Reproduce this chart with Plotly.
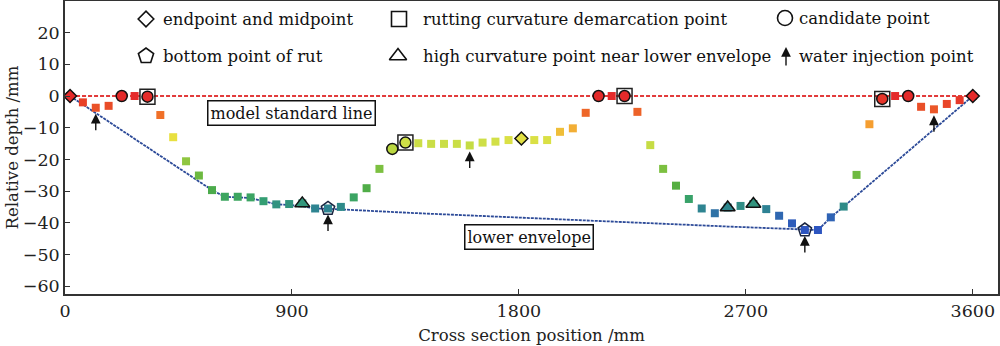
import plotly.graph_objects as go

# ---------------- data ----------------
position = [20, 71, 122, 173, 225, 276, 327, 378, 429, 480, 531, 583, 634, 685, 736,
            787, 838, 889, 941, 992, 1043, 1094, 1145, 1196, 1247, 1298, 1350, 1401,
            1452, 1503, 1554, 1605, 1656, 1707, 1759, 1810, 1861, 1912, 1963, 2014,
            2065, 2116, 2168, 2219, 2270, 2321, 2372, 2423, 2474, 2525, 2577, 2628,
            2679, 2730, 2781, 2832, 2883, 2934, 2986, 3037, 3088, 3139, 3190, 3241,
            3292, 3344, 3395, 3446, 3497, 3548, 3600]
depth = [0, -2.0, -3.7, -3.1, 0, 0, -0.2, -6.0, -13.0, -20.6, -25.1, -29.7, -31.8,
         -31.8, -32.0, -33.2, -34.2, -34.1, -33.9, -35.5, -35.5, -35.0, -32.0, -29.1,
         -23.0, -16.7, -14.7, -14.9, -15.1, -15.1, -15.1, -15.6, -14.7, -14.4, -13.9,
         -13.4, -13.9, -13.9, -11.3, -10.2, -5.3, 0, 0, 0, -5.0, -15.5, -23.0, -28.3,
         -32.5, -35.5, -37.0, -35.2, -34.7, -34.1, -35.7, -37.8, -40.2, -42.3, -42.3,
         -38.3, -34.9, -24.9, -8.9, -0.9, 0, 0, -3.4, -4.2, -2.5, -1.3, 0]

endpoint_idx = [0, 35, 70]
demarcation_idx = [6, 26, 43, 63]
candidate_idx = [4, 6, 25, 26, 41, 43, 63, 65]
bottom_idx = [20, 57]
high_curv_idx = [18, 51, 53]
water_idx = [2, 20, 31, 57, 67]

standard_x = [20, 3600]
standard_y = [0, 0]

envelope_x = [20, 583, 634, 736, 787, 838, 889, 941, 992, 1043, 1400, 1810, 2219,
              2628, 2883, 2934, 2986, 3037, 3088, 3600]
envelope_y = [0, -29.7, -31.8, -32.2, -33.2, -34.2, -34.4, -34.8, -35.5, -35.6,
              -37.0, -38.5, -39.8, -41.2, -42.0, -42.3, -42.3, -38.3, -34.9, 0]

x_ticks = [0, 900, 1800, 2700, 3600]
y_ticks = [20, 10, 0, -10, -20, -30, -40, -50, -60]

legend_labels = ["endpoint and midpoint", "rutting curvature demarcation point",
                 "candidate point", "bottom point of rut",
                 "high curvature point near lower envelope", "water injection point"]
legend_symbols = ["diamond-open", "square-open", "circle-open", "pentagon-open",
                  "triangle-up-open", None]

# ---------------- style ----------------
FONT = "DejaVu Serif"
colorscale = [
    [0.00, "#2d55c0"], [0.10, "#2f64b4"], [0.137, "#2f78a0"], [0.173, "#2e8a8a"],
    [0.22, "#35a070"], [0.267, "#42a855"], [0.338, "#58b040"], [0.456, "#7cc040"],
    [0.527, "#94c840"], [0.61, "#bcd840"], [0.657, "#d0e048"], [0.693, "#e8e040"],
    [0.74, "#f0b838"], [0.787, "#f5a030"], [0.858, "#f07028"], [0.905, "#ea5528"],
    [0.953, "#e84028"], [1.00, "#e42a2a"]]
CMIN, CMAX = -42.3, 0


def pick(idx, arr):
    return [arr[i] for i in idx]


def colored(size, symbol, idx, lw=1.5):
    return dict(symbol=symbol, size=size, color=pick(idx, depth), colorscale=colorscale,
                cmin=CMIN, cmax=CMAX, line=dict(color="#111", width=lw))


fig = go.Figure()

fig.add_trace(go.Scatter(x=standard_x, y=standard_y, mode="lines",
                         line=dict(color="#e23b3b", width=2, dash="4px,2px")))
fig.add_trace(go.Scatter(x=envelope_x, y=envelope_y, mode="lines",
                         line=dict(color="#2c4a98", width=1.8, dash="3px,1px")))

fig.add_trace(go.Scatter(x=position, y=depth, mode="markers",
                         marker=dict(symbol="square", size=8, color=depth,
                                     colorscale=colorscale, cmin=CMIN, cmax=CMAX,
                                     line=dict(width=0))))

fig.add_trace(go.Scatter(x=pick(demarcation_idx, position), y=pick(demarcation_idx, depth),
                         mode="markers",
                         marker=dict(symbol="square-open", size=15, color="#222",
                                     line=dict(width=1.5))))
fig.add_trace(go.Scatter(x=pick(candidate_idx, position), y=pick(candidate_idx, depth),
                         mode="markers", marker=colored(11, "circle", candidate_idx)))
fig.add_trace(go.Scatter(x=pick(bottom_idx, position), y=pick(bottom_idx, depth),
                         mode="markers",
                         marker=dict(symbol="pentagon-open", size=14, color="#1a2540",
                                     line=dict(width=1.5))))
fig.add_trace(go.Scatter(x=pick(high_curv_idx, position), y=pick(high_curv_idx, depth),
                         mode="markers", marker=colored(13, "triangle-up", high_curv_idx)))
fig.add_trace(go.Scatter(x=pick(endpoint_idx, position), y=pick(endpoint_idx, depth),
                         mode="markers", marker=colored(10, "diamond", endpoint_idx)))

annotations = []
for i in water_idx:
    annotations.append(dict(x=position[i], y=depth[i], xref="x", yref="y", text="",
                            showarrow=True, ax=0, ay=24, standoff=6, arrowhead=2,
                            arrowsize=1.4, arrowwidth=1.4, arrowcolor="#111"))

annotations.append(dict(x=900, y=-5.2, xref="x", yref="y", text="model standard line",
                        showarrow=False, font=dict(family=FONT, size=16, color="#111"),
                        bgcolor="white", bordercolor="#111", borderwidth=1.5, borderpad=2))
annotations.append(dict(x=1840, y=-44.5, xref="x", yref="y", text="lower envelope",
                        showarrow=False, font=dict(family=FONT, size=16, color="#111"),
                        bgcolor="white", bordercolor="#111", borderwidth=1.5, borderpad=2))

# legend (pixel-based overlay axes)
leg_sym_x = [146, 399, 785, 146, 398, 786]
leg_txt_x = [161, 421, 797, 161, 421, 797]
leg_y = [19, 19, 18, 56, 56, 56]
leg_sizes = [12, 15, 15, 16, 15, None]
for k, lab in enumerate(legend_labels):
    sym = legend_symbols[k]
    if sym is not None:
        fig.add_trace(go.Scatter(x=[leg_sym_x[k]], y=[leg_y[k]], xaxis="x2", yaxis="y2",
                                 mode="markers",
                                 marker=dict(symbol=sym, size=leg_sizes[k], color="#111",
                                             line=dict(width=1.6))))
    else:
        annotations.append(dict(x=leg_sym_x[k], y=leg_y[k] - 9, xref="x2", yref="y2",
                                text="", showarrow=True, ax=0, ay=20, arrowhead=2,
                                arrowsize=1.4, arrowwidth=1.4, arrowcolor="#111"))
    annotations.append(dict(x=leg_txt_x[k], y=leg_y[k], xref="x2", yref="y2", text=lab,
                            xanchor="left", yanchor="middle", showarrow=False,
                            font=dict(family=FONT, size=16.5, color="#111")))

axis_common = dict(showgrid=False, zeroline=False, showline=True, mirror=True,
                   linecolor="#333", linewidth=1.5, ticks="inside", ticklen=5,
                   tickcolor="#333", tickwidth=1.2, automargin=False,
                   tickfont=dict(family=FONT, size=17.5, color="#222"))

fig.update_layout(
    width=1000, height=346,
    margin=dict(l=65, r=2, t=1, b=52),
    plot_bgcolor="white", paper_bgcolor="white",
    showlegend=False,
    xaxis=dict(range=[0, 3700], tickvals=x_ticks,
               title=dict(text="Cross section position /mm",
                          font=dict(family=FONT, size=16.5, color="#222"), standoff=10),
               **axis_common),
    yaxis=dict(range=[-62.5, 30], tickvals=y_ticks,
               title=dict(text="Relative depth /mm",
                          font=dict(family=FONT, size=16.5, color="#222"), standoff=0),
               **axis_common),
    xaxis2=dict(overlaying="x", range=[65, 998], visible=False, fixedrange=True,
                automargin=False),
    yaxis2=dict(overlaying="y", range=[294, 1], visible=False, fixedrange=True,
                automargin=False),
    annotations=annotations,
)

fig.write_html("out.html", config={"displayModeBar": False},
               post_script="document.body.style.margin='0';"
                           "document.body.style.overflow='hidden';")
